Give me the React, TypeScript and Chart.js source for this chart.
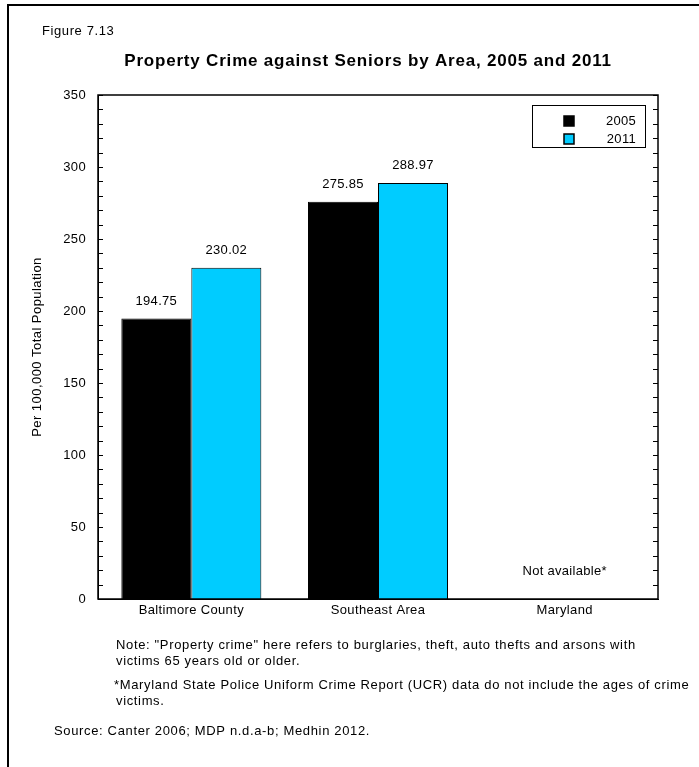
import React, { useEffect, useRef } from "react";
import { Chart, registerables } from "chart.js";

Chart.register(...registerables);

const categories = ["Baltimore County", "Southeast Area", "Maryland"];
const seriesNames = ["2005", "2011"];
const values2005: (number | null)[] = [194.75, 275.85, null];
const values2011: (number | null)[] = [230.02, 288.97, null];
const yTicks = [0, 50, 100, 150, 200, 250, 300, 350];
const figureLabel = "Figure 7.13";
const chartTitle = "Property Crime against Seniors by Area, 2005 and 2011";
const yAxisTitle = "Per 100,000 Total Population";
const notAvailableText = "Not available*";
const noteLines = [
  "Note: \"Property crime\" here refers to burglaries, theft, auto thefts and arsons with",
  "victims 65 years old or older.",
];
const footnoteLines = [
  "*Maryland State Police Uniform Crime Report (UCR) data do not include the ages of crime",
  "victims.",
];
const sourceLine = "Source: Canter 2006; MDP n.d.a-b; Medhin 2012.";

const FONT = "'Liberation Sans', Arial, sans-serif";
const COLORS = ["#000000", "#00CCFF"];

const W = 699;
const H = 767;
const PLOT_LEFT = 98;
const PLOT_RIGHT = 658;
const PLOT_TOP = 95;
const PLOT_BOTTOM = 599;
const Y_AXIS_W = 60;
const X_AXIS_H = 30;

const spacingPlugin = {
  id: "spacing",
  beforeDraw(chart: any) {
    (chart.ctx as any).letterSpacing = "0.35px";
  },
};

const decorPlugin = {
  id: "decor",
  afterDatasetsDraw(chart: any) {
    const ctx = chart.ctx as CanvasRenderingContext2D & { letterSpacing: string };
    const area = chart.chartArea;
    const y = chart.scales.y;
    ctx.save();

    // frame
    ctx.strokeStyle = "#000";
    ctx.lineWidth = 1.5;
    ctx.strokeRect(area.left, area.top, area.right - area.left, area.bottom - area.top);

    // inner ticks
    ctx.lineWidth = 1;
    for (let v = 0; v <= 350; v += 10) {
      const py = Math.round(y.getPixelForValue(v)) + 0.5;
      const len = 5;
      ctx.beginPath();
      ctx.moveTo(area.left, py);
      ctx.lineTo(area.left + len, py);
      ctx.moveTo(area.right, py);
      ctx.lineTo(area.right - len, py);
      ctx.stroke();
    }

    // value labels
    ctx.letterSpacing = "0.3px";
    ctx.fillStyle = "#000";
    ctx.font = `13px ${FONT}`;
    ctx.textAlign = "center";
    ctx.textBaseline = "alphabetic";
    chart.data.datasets.forEach((ds: any, di: number) => {
      const meta = chart.getDatasetMeta(di);
      meta.data.forEach((bar: any, i: number) => {
        const v = ds.data[i];
        if (v == null) return;
        ctx.fillText(v.toFixed(2), bar.x, bar.y - 14);
      });
    });

    // not available
    const x = chart.scales.x;
    ctx.fillText(notAvailableText, x.getPixelForValue(2), y.getPixelForValue(17));

    // legend
    const lx = 532, ly = 105, lw = 113, lh = 42;
    ctx.fillStyle = "#fff";
    ctx.fillRect(lx, ly, lw, lh);
    ctx.strokeStyle = "#000";
    ctx.lineWidth = 1;
    ctx.strokeRect(lx + 0.5, ly + 0.5, lw, lh);
    seriesNames.forEach((name, i) => {
      const cy = ly + 16 + i * 18;
      ctx.fillStyle = COLORS[i];
      ctx.fillRect(564, cy - 5, 10, 10);
      ctx.strokeStyle = "#000";
      ctx.lineWidth = 1.5;
      ctx.strokeRect(564, cy - 5, 10, 10);
      ctx.fillStyle = "#000";
      ctx.font = `13px ${FONT}`;
      ctx.textAlign = "right";
      ctx.textBaseline = "middle";
      ctx.fillText(name, 636, cy);
    });

    // y axis title
    ctx.save();
    ctx.letterSpacing = "0.45px";
    ctx.translate(37, (area.top + area.bottom) / 2);
    ctx.rotate(-Math.PI / 2);
    ctx.textAlign = "center";
    ctx.textBaseline = "middle";
    ctx.font = `13px ${FONT}`;
    ctx.fillText(yAxisTitle, 0, 0);
    ctx.restore();

    // page border
    ctx.strokeStyle = "#000";
    ctx.lineWidth = 2;
    ctx.beginPath();
    ctx.moveTo(8, H);
    ctx.lineTo(8, 5);
    ctx.lineTo(W, 5);
    ctx.stroke();

    // figure label & title
    ctx.fillStyle = "#000";
    ctx.textBaseline = "middle";
    ctx.textAlign = "left";
    ctx.letterSpacing = "0.6px";
    ctx.font = `13px ${FONT}`;
    ctx.fillText(figureLabel, 42, 31);
    ctx.textAlign = "center";
    ctx.letterSpacing = "0.8px";
    ctx.font = `bold 17px ${FONT}`;
    ctx.fillText(chartTitle, 368, 61);

    // notes
    ctx.textAlign = "left";
    ctx.letterSpacing = "0.65px";
    ctx.font = `13px ${FONT}`;
    ctx.fillText(noteLines[0], 116, 645);
    ctx.fillText(noteLines[1], 116, 661);
    ctx.fillText(footnoteLines[0], 114, 685);
    ctx.fillText(footnoteLines[1], 116, 701);
    ctx.fillText(sourceLine, 54, 731);

    ctx.restore();
    ctx.letterSpacing = "0px";
  },
};

export default function App() {
  const ref = useRef<HTMLCanvasElement | null>(null);
  useEffect(() => {
    if (!ref.current) return;
    const chart = new Chart(ref.current, {
      type: "bar",
      data: {
        labels: categories,
        datasets: [
          {
            label: seriesNames[0],
            data: values2005,
            backgroundColor: COLORS[0],
            borderColor: "#000",
            borderWidth: 1,
          },
          {
            label: seriesNames[1],
            data: values2011,
            backgroundColor: COLORS[1],
            borderColor: "#000",
            borderWidth: 1,
          },
        ],
      },
      options: {
        responsive: false,
        animation: false,
        layout: {
          padding: {
            left: PLOT_LEFT - Y_AXIS_W,
            right: W - PLOT_RIGHT,
            top: PLOT_TOP,
            bottom: H - PLOT_BOTTOM - X_AXIS_H,
          },
        },
        datasets: {
          bar: { categoryPercentage: 0.75, barPercentage: 1 },
        },
        scales: {
          x: {
            grid: { display: false, drawTicks: false },
            border: { display: true, color: "#000", width: 1 },
            ticks: { color: "#000", font: { family: FONT, size: 13 }, padding: 4 },
            afterFit: (s: any) => {
              s.height = X_AXIS_H;
            },
          },
          y: {
            min: 0,
            max: 350,
            afterBuildTicks: (s: any) => {
              s.ticks = yTicks.map((v) => ({ value: v }));
            },
            grid: { display: false, drawTicks: false },
            border: { display: true, color: "#000", width: 1 },
            ticks: { color: "#000", font: { family: FONT, size: 13 }, padding: 12 },
            afterFit: (s: any) => {
              s.width = Y_AXIS_W;
            },
          },
        },
        plugins: {
          legend: { display: false },
          tooltip: { enabled: false },
          title: { display: false },
        },
      },
      plugins: [spacingPlugin, decorPlugin],
    });
    return () => chart.destroy();
  }, []);
  return (
    <div style={{ position: "absolute", left: 0, top: 0, width: W, height: H, background: "#fff" }}>
      <canvas ref={ref} width={W} height={H} style={{ display: "block", width: W, height: H }} />
    </div>
  );
}
